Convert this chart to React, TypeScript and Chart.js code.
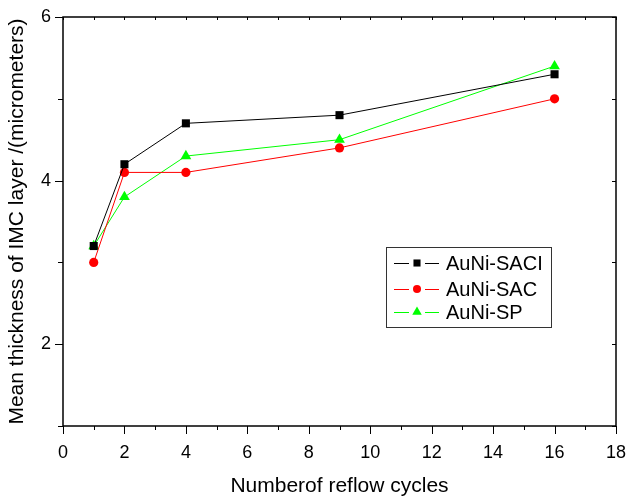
import React, { useEffect, useRef } from 'react';
import { Chart, registerables } from 'chart.js';

Chart.register(...registerables);

const cycles = [1, 2, 4, 9, 16];
const saci = [3.2, 4.2, 4.7, 4.8, 5.3];
const sac = [3.0, 4.1, 4.1, 4.4, 5.0];
const sp = [3.2, 3.8, 4.3, 4.5, 5.4];
const seriesNames = ['AuNi-SACI', 'AuNi-SAC', 'AuNi-SP'];
const xTickLabels = [0, 2, 4, 6, 8, 10, 12, 14, 16, 18];
const yTickLabels = [2, 4, 6];
const xTitle = 'Numberof reflow cycles';
const yTitle = 'Mean thickness of IMC layer /(micrometers)';

const FONT = "'Liberation Sans', Arial, Helvetica, sans-serif";

function drawMarker(ctx: CanvasRenderingContext2D, style: string, r: number, x: number, y: number) {
  ctx.beginPath();
  if (style === 'rect') {
    const s = Math.SQRT1_2 * r;
    ctx.rect(x - s, y - s, 2 * s, 2 * s);
  } else if (style === 'circle') {
    ctx.arc(x, y, r, 0, Math.PI * 2);
  } else {
    ctx.moveTo(x, y - r);
    ctx.lineTo(x + r * 0.866, y + r / 2);
    ctx.lineTo(x - r * 0.866, y + r / 2);
    ctx.closePath();
  }
  ctx.fill();
}

const framePlugin = {
  id: 'frame',
  afterDraw(chart: any) {
    const { ctx, chartArea: a } = chart;
    const x = chart.scales.x;
    const y = chart.scales.y;
    ctx.save();
    ctx.strokeStyle = '#000';
    ctx.lineWidth = 1.5;
    ctx.strokeRect(a.left, a.top, a.right - a.left, a.bottom - a.top);
    ctx.lineWidth = 1;
    ctx.beginPath();
    for (let v = x.min; v <= x.max; v++) {
      const px = Math.round(x.getPixelForValue(v)) + 0.5;
      const major = v % 2 === 0;
      ctx.moveTo(px, a.bottom);
      ctx.lineTo(px, a.bottom + (major ? 8 : 4));
      ctx.moveTo(px, a.top);
      ctx.lineTo(px, a.top + 3);
    }
    for (let v = y.min; v <= y.max; v++) {
      const py = Math.round(y.getPixelForValue(v)) + 0.5;
      const major = v % 2 === 0;
      ctx.moveTo(a.left, py);
      ctx.lineTo(a.left - (major ? 8 : 5), py);
      ctx.moveTo(a.right, py);
      ctx.lineTo(a.right - 4, py);
    }
    ctx.stroke();

    // legend box
    const lx = a.left + 323;
    const ly = a.top + 230;
    const lw = 165;
    const lh = 80;
    ctx.strokeStyle = '#333';
    ctx.lineWidth = 1;
    ctx.strokeRect(Math.round(lx) + 0.5, Math.round(ly) + 0.5, lw, lh);
    const rows = [16, 42, 65];
    const styles = ['rect', 'circle', 'triangle'];
    const radii = [5, 4, 5.5];
    chart.data.datasets.forEach((ds: any, i: number) => {
      const ry = ly + rows[i];
      ctx.strokeStyle = ds.borderColor;
      ctx.lineWidth = 1;
      ctx.beginPath();
      ctx.moveTo(lx + 8, ry + 0.5);
      ctx.lineTo(lx + 23, ry + 0.5);
      ctx.moveTo(lx + 39, ry + 0.5);
      ctx.lineTo(lx + 53, ry + 0.5);
      ctx.stroke();
      ctx.fillStyle = ds.borderColor;
      drawMarker(ctx, styles[i], radii[i], lx + 31, ry);
      ctx.fillStyle = '#000';
      ctx.font = `20px ${FONT}`;
      ctx.textBaseline = 'middle';
      ctx.textAlign = 'left';
      ctx.fillText(ds.label, lx + 60, ry + 1);
    });
    ctx.restore();
  },
};

export default function App() {
  const ref = useRef<HTMLCanvasElement>(null);
  useEffect(() => {
    document.body.style.margin = '0';
    const canvas = ref.current!;
    const toPts = (vals: number[]) => cycles.map((c, i) => ({ x: c, y: vals[i] }));
    const chart = new Chart(canvas, {
      type: 'line',
      data: {
        datasets: [
          {
            label: seriesNames[0],
            data: toPts(saci),
            borderColor: '#000000',
            backgroundColor: '#000000',
            borderWidth: 1,
            pointStyle: 'rect',
            pointRadius: 5.7,
            pointBorderWidth: 0,
          },
          {
            label: seriesNames[1],
            data: toPts(sac),
            borderColor: '#ff0000',
            backgroundColor: '#ff0000',
            borderWidth: 1,
            pointStyle: 'circle',
            pointRadius: 4.6,
            pointBorderWidth: 0,
          },
          {
            label: seriesNames[2],
            data: toPts(sp),
            borderColor: '#00ff00',
            backgroundColor: '#00ff00',
            borderWidth: 1,
            pointStyle: 'triangle',
            pointRadius: 6.2,
            pointBorderWidth: 0,
          },
        ],
      },
      options: {
        responsive: false,
        animation: false,
        layout: { padding: { top: 17, right: 10, left: 0, bottom: 0 } },
        plugins: { legend: { display: false }, tooltip: { enabled: false } },
        elements: { line: { tension: 0 } },
        scales: {
          x: {
            type: 'linear',
            min: 0,
            max: 18,
            grid: { display: false, drawTicks: false },
            border: { display: false },
            ticks: {
              stepSize: 1,
              autoSkip: false,
              maxRotation: 0,
              padding: 16,
              color: '#000',
              font: { family: FONT, size: 18 },
              callback: (v: any) => (xTickLabels.includes(Number(v)) ? String(v) : ''),
            },
            title: {
              display: true,
              text: xTitle,
              color: '#000',
              font: { family: FONT, size: 21, lineHeight: 1 },
              padding: { top: 0, bottom: 0 },
            },
            afterFit: (s: any) => {
              s.height = 71;
              s.paddingLeft = 0;
              s.paddingRight = 0;
              s.paddingTop = 0;
              s.paddingBottom = 0;
            },
          },
          y: {
            type: 'linear',
            min: 1,
            max: 6,
            grid: { display: false, drawTicks: false },
            border: { display: false },
            ticks: {
              stepSize: 1,
              autoSkip: false,
              padding: 12,
              color: '#000',
              font: { family: FONT, size: 18 },
              callback: (v: any) => (yTickLabels.includes(Number(v)) ? String(v) : ''),
            },
            title: {
              display: true,
              text: yTitle,
              color: '#000',
              font: { family: FONT, size: 21, lineHeight: 1.2 },
              padding: { top: 5, bottom: 0 },
            },
            afterFit: (s: any) => {
              s.width = 63;
              s.paddingLeft = 0;
              s.paddingRight = 0;
              s.paddingTop = 0;
              s.paddingBottom = 0;
            },
          },
        },
      } as any,
      plugins: [framePlugin],
    });
    return () => chart.destroy();
  }, []);
  return (
    <canvas
      ref={ref}
      width={626}
      height={497}
      style={{ position: 'absolute', left: 0, top: 0, width: 626, height: 497 }}
    />
  );
}
